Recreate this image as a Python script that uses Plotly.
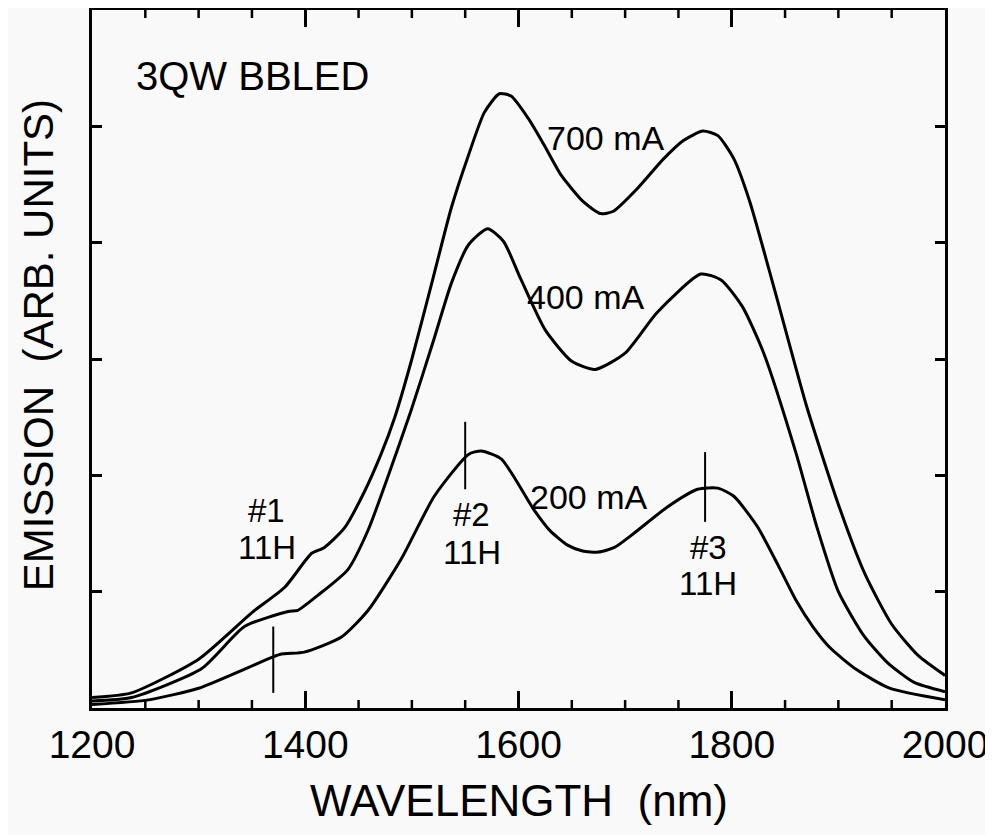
import plotly.graph_objects as go

# ---- data ----
wl_700 = [1200, 1237, 1300, 1350, 1381, 1406, 1418, 1437, 1455, 1471, 1484, 1500, 1520, 1537, 1553, 1568,
          1582, 1593, 1609, 1624, 1640, 1661, 1677, 1689, 1712, 1736, 1755, 1773, 1787, 1802, 1817, 1840,
          1870, 1900, 1925, 1950, 1975, 2000]
em_700 = [0.09, 0.13, 0.42, 0.82, 1.04, 1.33, 1.38, 1.55, 1.85, 2.18, 2.50, 3.00, 3.70, 4.30, 4.75, 5.12,
          5.28, 5.26, 5.07, 4.84, 4.58, 4.35, 4.25, 4.27, 4.47, 4.72, 4.88, 4.96, 4.92, 4.72, 4.35, 3.60,
          2.60, 1.75, 1.15, 0.72, 0.45, 0.28]

wl_400 = [1200, 1237, 1303, 1343, 1384, 1393, 1412, 1440, 1459, 1478, 1499, 1520, 1537, 1553, 1571, 1586,
          1602, 1625, 1650, 1672, 1700, 1730, 1771, 1790, 1810, 1830, 1860, 1880, 1900, 1924, 1946, 1971, 2000]
em_400 = [0.06, 0.09, 0.34, 0.70, 0.83, 0.84, 0.97, 1.19, 1.53, 2.00, 2.55, 3.15, 3.65, 3.98, 4.12, 4.01,
          3.69, 3.25, 2.98, 2.91, 3.05, 3.40, 3.73, 3.68, 3.45, 3.05, 2.20, 1.55, 1.00, 0.62, 0.39, 0.22, 0.14]

wl_200 = [1200, 1253, 1300, 1347, 1376, 1399, 1434, 1459, 1490, 1521, 1553, 1565, 1584, 1614, 1630, 1646,
          1660, 1675, 1690, 1708, 1740, 1768, 1787, 1802, 1824, 1845, 1860, 1876, 1892, 1917, 1948, 2000]
em_200 = [0.03, 0.07, 0.17, 0.35, 0.46, 0.48, 0.61, 0.84, 1.28, 1.82, 2.18, 2.21, 2.14, 1.71, 1.52, 1.40,
          1.35, 1.34, 1.38, 1.50, 1.73, 1.88, 1.89, 1.82, 1.56, 1.20, 0.93, 0.70, 0.52, 0.33, 0.17, 0.07]

# transition marker lines (#1, #2, #3 11H)
mark_wl = [1370, 1550, 1775]
mark_lo = [0.13, 1.88, 1.60]
mark_hi = [0.70, 2.46, 2.20]
mark_names = ["#1", "#2", "#3"]
mark_label_wl = [1364, 1556, 1778]
mark_name_y = [1.70, 1.66, 1.38]
mark_sub_y = [1.38, 1.34, 1.07]
mark_sub = "11H"

curve_labels = ["700 mA", "400 mA", "200 mA"]
curve_label_wl = [1682, 1663, 1666]
curve_label_y = [4.90, 3.53, 1.81]

x_range = [1200, 2000]
x_major_ticks = [1200, 1400, 1600, 1800, 2000]
x_minor_ticks = [1250, 1300, 1350, 1450, 1500, 1550, 1650, 1700, 1750, 1850, 1900, 1950]
y_range = [0, 6]
y_ticks = [1, 2, 3, 4, 5]

FONT = "Liberation Sans, Arial, sans-serif"
BG = "#f9f9f9"

fig = go.Figure()
for wl, em in [(wl_700, em_700), (wl_400, em_400), (wl_200, em_200)]:
    fig.add_trace(go.Scatter(x=wl, y=em, mode="lines",
                             line=dict(color="black", width=3, shape="spline", smoothing=0.6),
                             showlegend=False, hoverinfo="skip"))

for xm, lo, hi in zip(mark_wl, mark_lo, mark_hi):
    fig.add_trace(go.Scatter(x=[xm, xm], y=[lo, hi], mode="lines",
                             line=dict(color="black", width=2), showlegend=False, hoverinfo="skip"))

# x-axis tick marks (bottom and top, pointing inward), placed on the x scale
shapes = []
for ticks, length in [(x_major_ticks[1:-1], 17), (x_minor_ticks, 8)]:
    for v in ticks:
        shapes.append(dict(type="line", xref="x", yref="y", x0=v, x1=v,
                           ysizemode="pixel", yanchor=y_range[0], y0=0, y1=length,
                           line=dict(color="black", width=2.5), layer="above"))
        shapes.append(dict(type="line", xref="x", yref="y", x0=v, x1=v,
                           ysizemode="pixel", yanchor=y_range[1], y0=0, y1=-length,
                           line=dict(color="black", width=2.5), layer="above"))

annotations = []
annotations.append(dict(x=1239, y=5.43, xref="x", yref="y", text="3QW BBLED", showarrow=False,
                        xanchor="left", yanchor="middle", font=dict(family=FONT, size=40, color="black")))
for t, xv, yv in zip(curve_labels, curve_label_wl, curve_label_y):
    annotations.append(dict(x=xv, y=yv, xref="x", yref="y", text=t, showarrow=False,
                            xanchor="center", yanchor="middle", font=dict(family=FONT, size=34, color="black")))
for n, xv, yn, ys in zip(mark_names, mark_label_wl, mark_name_y, mark_sub_y):
    annotations.append(dict(x=xv, y=yn, xref="x", yref="y", text=n, showarrow=False,
                            xanchor="center", yanchor="middle", font=dict(family=FONT, size=33, color="black")))
    annotations.append(dict(x=xv, y=ys, xref="x", yref="y", text=mark_sub, showarrow=False,
                            xanchor="center", yanchor="middle", font=dict(family=FONT, size=33, color="black")))
annotations.append(dict(x=0.5, y=-0.132, xref="paper", yref="paper", text="WAVELENGTH  (nm)",
                        showarrow=False, xanchor="center", yanchor="middle",
                        font=dict(family=FONT, size=44, color="black")))
annotations.append(dict(x=-0.063, y=0.52, xref="paper", yref="paper", text="EMISSION  (ARB. UNITS)",
                        showarrow=False, xanchor="center", yanchor="middle", textangle=-90,
                        font=dict(family=FONT, size=42, color="black")))

# page body has an 8px default margin, so the figure is sized to fit inside the window
fig.update_layout(
    template="none",
    width=985, height=827,
    margin=dict(l=84, r=48, t=2, b=127),
    paper_bgcolor=BG, plot_bgcolor=BG,
    annotations=annotations,
    shapes=shapes,
    showlegend=False,
    xaxis=dict(range=x_range, tickvals=x_major_ticks, ticktext=[str(v) for v in x_major_ticks],
               ticks="inside", ticklen=17, tickwidth=2.5, tickcolor="black",
               tickfont=dict(family=FONT, size=39, color="black"),
               showline=True, linecolor="black", linewidth=3, mirror="ticks",
               showgrid=False, zeroline=False),
    yaxis=dict(range=y_range, tickvals=y_ticks, showticklabels=False,
               ticks="inside", ticklen=10, tickwidth=2.5, tickcolor="black",
               showline=True, linecolor="black", linewidth=3, mirror="ticks",
               showgrid=False, zeroline=False),
)

fig.write_html("out.html")
